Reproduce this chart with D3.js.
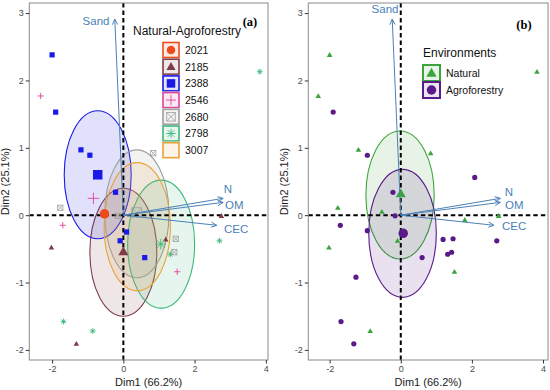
<!DOCTYPE html>
<html>
<head>
<meta charset="utf-8">
<script src="https://cdn.jsdelivr.net/npm/d3@7"></script>
<style>
  body { margin: 0; background: #fff; }
  text { font-family: "Liberation Sans", Arial, sans-serif; }
</style>
</head>
<body>
<div id="chart"></div>
<script>
// DATA
const genotypes = ["2021", "2185", "2388", "2546", "2680", "2798", "3007"]
const genoColors = ["#EE4B1C", "#7F3B46", "#1A1AE6", "#E0449A", "#9E9E9E", "#3DB87A", "#E8A23A"]
const genoShapes = ["circle", "triangle", "square", "plus", "squarecross", "asterisk", null]

const environments = ["Natural", "Agroforestry"]
const envColors = ["#3BA43B", "#5A1A8A"]
const envShapes = ["triangle", "circle"]

// individual samples: Dim1, Dim2, genotype, environment
const sampleDim1 = [-2.00, -2.32, -1.90, -1.19, -0.94, 0.84, 3.83, 2.08, -0.22, -1.77,
                    -0.53, -0.16, -1.70, -0.94, 0.09, -0.09, -2.02, 0.60, 1.19, 1.47,
                    1.32, 1.43, 1.80, 2.75, 2.70, 1.51, -1.26, -1.68, -0.86, -1.32]
const sampleDim2 = [2.38, 1.77, 1.53, 0.97, 0.89, 0.92, 2.13, 0.56, 0.34, 0.11,
                    0.05, -0.01, -0.15, -0.23, -0.25, -0.38, -0.48, -0.63, -0.36, -0.35,
                    -0.58, -0.55, -0.07, -0.01, -0.38, -0.84, -0.92, -1.58, -1.72, -1.91]
const sampleGeno = ["2388", "2546", "2388", "2388", "2388", "2680", "2798", "3007", "2388", "2680",
                    "2185", "2680", "2546", "3007", "2388", "2388", "2185", "2388", "2185", "2680",
                    "2798", "2680", "3007", "2185", "2798", "2546", "3007", "2798", "2798", "2185"]
const sampleEnv = ["Natural", "Natural", "Agroforestry", "Natural", "Agroforestry", "Natural", "Natural", "Agroforestry", "Agroforestry", "Natural",
                   "Natural", "Agroforestry", "Agroforestry", "Agroforestry", "Agroforestry", "Natural", "Natural", "Agroforestry", "Agroforestry", "Agroforestry",
                   "Agroforestry", "Agroforestry", "Natural", "Natural", "Agroforestry", "Natural", "Agroforestry", "Agroforestry", "Natural", "Agroforestry"]

// group means (large symbols)
const genoCentroidDim1 = [-0.53, 0.00, -0.72, -0.84, 0.37, 1.05, 0.42]
const genoCentroidDim2 = [0.02, -0.54, 0.60, 0.25, 0.04, -0.43, -0.17]
const envCentroidDim1 = [0.00, 0.07]
const envCentroidDim2 = [0.32, -0.27]

// confidence ellipses: centre and semi-axes in Dim units (null = none drawn)
const genoEllipses = [null, [0.00, -0.55, 0.94, 0.95], [-0.72, 0.60, 0.94, 0.95], null,
                      [0.38, 0.02, 0.90, 0.95], [1.06, -0.43, 0.94, 0.95], [0.39, -0.17, 0.93, 0.95]]
const envEllipses = [[-0.02, 0.30, 0.96, 0.95], [0.05, -0.27, 0.95, 0.95]]

// variable loadings
const variables = ["Sand", "N", "OM", "CEC"]
const varDim1 = [-0.24, 2.80, 2.80, 2.62]
const varDim2 = [2.91, 0.25, 0.19, -0.15]

const xTicks = [-2, 0, 2, 4]
const yTicks = [-2, -1, 0, 1, 2, 3]

// LAYOUT
const W = 550, H = 390
const panels = [
    { left: 29.3, right: 268, top: 3, bottom: 360, xlim: [-2.64, 4.06], tag: "(a)", tagX: 250, tagY: 26,
      labelPos: { Sand: [96, 25, "middle"], N: [228, 193, "middle"], OM: [225, 209, "start"], CEC: [224, 233, "start"] } },
    { left: 308.3, right: 548, top: 3, bottom: 360, xlim: [-2.60, 4.14], tag: "(b)", tagX: 524, tagY: 29,
      labelPos: { Sand: [385, 13, "middle"], N: [509, 196, "middle"], OM: [505, 209, "start"], CEC: [502, 230, "start"] } }
]
const ylim = [-2.15, 3.15]
const arrowColor = "#4A82B8"

const svg = d3.select("#chart").append("svg").attr("width", W).attr("height", H)

const drawSymbol = (g, shape, cx, cy, s, color) => {
    if (shape === "circle") {
        g.append("circle").attr("cx", cx).attr("cy", cy).attr("r", s / 2).attr("fill", color)
    } else if (shape === "triangle") {
        g.append("path").attr("transform", `translate(${cx},${cy + s * 0.08})`)
         .attr("d", d3.symbol(d3.symbolTriangle, s * s * 0.5)()).attr("fill", color)
    } else if (shape === "square") {
        g.append("rect").attr("x", cx - s / 2).attr("y", cy - s / 2).attr("width", s).attr("height", s).attr("fill", color)
    } else if (shape === "plus") {
        const h = s * 0.6
        g.append("path").attr("d", `M${cx - h},${cy}H${cx + h}M${cx},${cy - h}V${cy + h}`)
         .attr("stroke", color).attr("stroke-width", 0.9).attr("fill", "none")
    } else if (shape === "squarecross") {
        const h = s / 2
        g.append("rect").attr("x", cx - h).attr("y", cy - h).attr("width", s).attr("height", s)
         .attr("fill", "none").attr("stroke", color).attr("stroke-width", 0.8)
        g.append("path").attr("d", `M${cx - h},${cy - h}L${cx + h},${cy + h}M${cx + h},${cy - h}L${cx - h},${cy + h}`)
         .attr("stroke", color).attr("stroke-width", 0.8)
    } else if (shape === "asterisk") {
        const h = s * 0.55, d = h * 0.72
        g.append("path").attr("d", `M${cx - h},${cy}H${cx + h}M${cx},${cy - h}V${cy + h}` +
                                   `M${cx - d},${cy - d}L${cx + d},${cy + d}M${cx + d},${cy - d}L${cx - d},${cy + d}`)
         .attr("stroke", color).attr("stroke-width", 0.9).attr("fill", "none")
    }
}

const drawPanel = (p, idx, groups, colors, shapes, groupOf, cDim1, cDim2, ellipses) => {
    const x = d3.scaleLinear().domain(p.xlim).range([p.left, p.right])
    const y = d3.scaleLinear().domain(ylim).range([p.bottom, p.top])
    const g = svg.append("g")

    g.append("clipPath").attr("id", "clip" + idx)
     .append("rect").attr("x", p.left).attr("y", p.top).attr("width", p.right - p.left).attr("height", p.bottom - p.top)
    const plot = g.append("g").attr("clip-path", `url(#clip${idx})`)

    // ellipses
    ellipses.forEach((e, i) => {
        if (!e) return
        plot.append("ellipse")
            .attr("cx", x(e[0])).attr("cy", y(e[1]))
            .attr("rx", x(e[0] + e[2]) - x(e[0])).attr("ry", y(e[1]) - y(e[1] + e[3]))
            .attr("fill", colors[i]).attr("fill-opacity", 0.13)
            .attr("stroke", colors[i]).attr("stroke-width", 1.1)
    })

    // axes through origin
    plot.append("line").attr("x1", p.left).attr("x2", p.right).attr("y1", y(0)).attr("y2", y(0))
        .attr("stroke", "#000").attr("stroke-width", 2).attr("stroke-dasharray", "4.5,3")
    plot.append("line").attr("x1", x(0)).attr("x2", x(0)).attr("y1", p.top).attr("y2", p.bottom)
        .attr("stroke", "#000").attr("stroke-width", 2).attr("stroke-dasharray", "4.5,3")

    // samples
    sampleDim1.forEach((d, i) => {
        const k = groups.indexOf(groupOf[i])
        drawSymbol(plot, shapes[k], x(d), y(sampleDim2[i]), 5.2, colors[k])
    })
    // group means
    groups.forEach((gr, k) => drawSymbol(plot, shapes[k], x(cDim1[k]), y(cDim2[k]), 9.5, colors[k]))

    // variable arrows
    variables.forEach((v, i) => {
        const x0 = x(0), y0 = y(0), x1 = x(varDim1[i]), y1 = y(varDim2[i])
        const a = Math.atan2(y1 - y0, x1 - x0), L = 6, sp = Math.PI / 7
        g.append("path")
         .attr("d", `M${x0},${y0}L${x1},${y1}` +
                    `M${x1 - L * Math.cos(a - sp)},${y1 - L * Math.sin(a - sp)}L${x1},${y1}` +
                    `L${x1 - L * Math.cos(a + sp)},${y1 - L * Math.sin(a + sp)}`)
         .attr("stroke", arrowColor).attr("stroke-width", 1).attr("fill", "none")
        const lp = p.labelPos[v]
        g.append("text").attr("x", lp[0]).attr("y", lp[1]).attr("text-anchor", lp[2])
         .attr("font-size", 11.5).attr("fill", arrowColor).text(v)
    })

    // frame
    g.append("rect").attr("x", p.left).attr("y", p.top).attr("width", p.right - p.left).attr("height", p.bottom - p.top)
     .attr("fill", "none").attr("stroke", "#8a8a8a").attr("stroke-width", 1)

    // axes
    const xAxis = d3.axisBottom(x).tickValues(xTicks).tickSize(3.5).tickPadding(2).tickFormat(d => String(d))
    const yAxis = d3.axisLeft(y).tickValues(yTicks).tickSize(3.5).tickPadding(2).tickFormat(d => String(d))
    const ax = g.append("g").attr("transform", `translate(0,${p.bottom})`).call(xAxis)
    const ay = g.append("g").attr("transform", `translate(${p.left},0)`).call(yAxis)
    ;[ax, ay].forEach(a => {
        a.select(".domain").remove()
        a.selectAll(".tick line").attr("stroke", "#333")
        a.selectAll(".tick text").attr("fill", "#4d4d4d").attr("font-size", 9)
            .style("font-family", "Liberation Sans, Arial, sans-serif")
    })

    g.append("text").attr("x", (p.left + p.right) / 2).attr("y", 386).attr("text-anchor", "middle")
     .attr("font-size", 11).attr("fill", "#222").text("Dim1 (66.2%)")
    g.append("text").attr("transform", `translate(${p.left - 20},${(p.top + p.bottom) / 2}) rotate(-90)`)
     .attr("text-anchor", "middle").attr("font-size", 11).attr("fill", "#222").text("Dim2 (25.1%)")

    g.append("text").attr("x", p.tagX).attr("y", p.tagY).attr("text-anchor", "middle")
     .style("font-family", "'Liberation Serif', 'Times New Roman', serif").attr("font-weight", "bold")
     .attr("font-size", 12.5).attr("fill", "#000").text(p.tag)
}

drawPanel(panels[0], 0, genotypes, genoColors, genoShapes, sampleGeno, genoCentroidDim1, genoCentroidDim2, genoEllipses)
drawPanel(panels[1], 1, environments, envColors, envShapes, sampleEnv, envCentroidDim1, envCentroidDim2, envEllipses)

// legends
const drawLegend = (title, tx, ty, kx, ky, kw, kh, pitch, bw, labels, colors, shapes, symSize) => {
    const lg = svg.append("g")
    lg.append("text").attr("x", tx).attr("y", ty).attr("font-size", 12).attr("fill", "#111").text(title)
    labels.forEach((l, i) => {
        const yy = ky + i * pitch
        lg.append("rect").attr("x", kx - 1).attr("y", yy - 1).attr("width", kw + 2).attr("height", kh + 2).attr("fill", "#fff")
        lg.append("rect").attr("x", kx).attr("y", yy).attr("width", kw).attr("height", kh)
          .attr("fill", d3.interpolateRgb("#fff", colors[i])(0.12))
          .attr("stroke", colors[i]).attr("stroke-width", bw)
        drawSymbol(lg, shapes[i], kx + kw / 2, yy + kh / 2, symSize, colors[i])
        lg.append("text").attr("x", kx + kw + 6).attr("y", yy + kh / 2 + 3.8)
          .attr("font-size", 10.5).attr("fill", "#111").text(l)
    })
}
drawLegend("Natural-Agroforestry", 133, 35, 163, 42.5, 16, 15, 16.7, 1.6, genotypes, genoColors, genoShapes, 8.5)
drawLegend("Environments", 423, 57, 423, 65, 17, 16, 17, 2, environments, envColors, envShapes, 9.5)
</script>
</body>
</html>
